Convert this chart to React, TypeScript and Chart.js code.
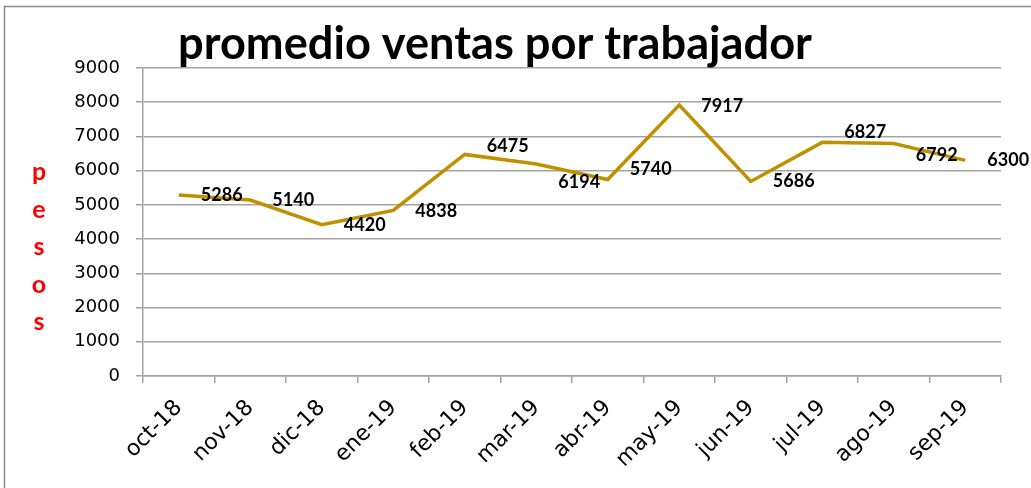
import React, { useEffect, useRef } from "react";
import { Chart, registerables } from "chart.js";

Chart.register(...registerables);

const categories = ["oct-18", "nov-18", "dic-18", "ene-19", "feb-19", "mar-19", "abr-19", "may-19", "jun-19", "jul-19", "ago-19", "sep-19"];
const ventas = [5286, 5140, 4420, 4838, 6475, 6194, 5740, 7917, 5686, 6827, 6792, 6300];
const labelDy = [0, 0, 0, 1, -8, 18, -10, 1, 0, -10, 12, 0];
const titleText = "promedio ventas por trabajador";
const axisLetters = ["p", "e", "s", "o", "s"];
const yMin = 0;
const yMax = 9000;
const yStep = 1000;

const GRID = "#a3a3a3";
const LINE = "#BF9000";

const extrasPlugin = {
  id: "extras",
  beforeDraw(chart: any) {
    const ctx = chart.ctx;
    ctx.save();
    ctx.strokeStyle = "#8c8c8c";
    ctx.lineWidth = 1.5;
    ctx.strokeRect(4.5, 6.5, chart.width + 20, chart.height + 20);
    ctx.restore();
  },
  afterDraw(chart: any) {
    const ctx = chart.ctx;
    ctx.save();
    // title
    ctx.font = "bold 36px Lato";
    const w = ctx.measureText(titleText).width;
    const size = (36 * 634) / w;
    ctx.font = `bold ${size}px Lato`;
    ctx.fillStyle = "#000";
    ctx.textAlign = "center";
    ctx.textBaseline = "alphabetic";
    ctx.fillText(titleText, 495, 59);

    // vertical axis label
    ctx.font = "bold 25px Lato";
    ctx.fillStyle = "#FF0000";
    axisLetters.forEach((l, i) => {
      ctx.fillText(l, 39, 180 + i * 37.5);
    });

    // data labels
    const meta = chart.getDatasetMeta(0);
    ctx.font = "bold 18px Lato";
    ctx.fillStyle = "#000";
    ctx.textAlign = "center";
    ctx.textBaseline = "middle";
    meta.data.forEach((pt: any, i: number) => {
      ctx.fillText(String(ventas[i]), pt.x + 43, pt.y + labelDy[i]);
    });
    ctx.restore();
  },
};

export default function App() {
  const ref = useRef<HTMLCanvasElement>(null);
  useEffect(() => {
    if (!ref.current) return;
    const chart = new Chart(ref.current, {
      type: "line",
      data: {
        labels: categories,
        datasets: [
          {
            data: ventas,
            borderColor: LINE,
            backgroundColor: LINE,
            borderWidth: 3.5,
            pointRadius: 0,
            tension: 0,
          },
        ],
      },
      options: {
        animation: false,
        responsive: false,
        layout: { padding: { top: 68, right: 30, left: 0, bottom: 0 } },
        plugins: { legend: { display: false }, tooltip: { enabled: false } },
        scales: {
          x: {
            type: "category",
            offset: true,
            afterFit: (s: any) => {
              s.height = 112;
            },
            grid: {
              offset: true,
              drawOnChartArea: false,
              drawTicks: true,
              tickLength: 7,
              color: GRID,
              lineWidth: 1.5,
            },
            border: { display: true, color: GRID, width: 1.5 },
            ticks: {
              minRotation: 45,
              maxRotation: 45,
              autoSkip: false,
              padding: 12,
              color: "#000",
              font: { family: "DejaVu Sans", size: 22 },
            },
          },
          y: {
            min: yMin,
            max: yMax,
            afterFit: (s: any) => {
              s.width = 143;
            },
            grid: { color: GRID, lineWidth: 1.5, tickLength: 7 },
            border: { display: true, color: GRID, width: 1.5 },
            ticks: {
              stepSize: yStep,
              padding: 16,
              color: "#000",
              font: { family: "DejaVu Sans", size: 18 },
              callback: (v: any) => String(v),
            },
          },
        },
      },
      plugins: [extrasPlugin],
    });
    return () => chart.destroy();
  }, []);
  return (
    <div style={{ position: "absolute", left: 0, top: 0, width: 1031, height: 488, background: "#fff" }}>
      <canvas ref={ref} width={1031} height={488} />
    </div>
  );
}
